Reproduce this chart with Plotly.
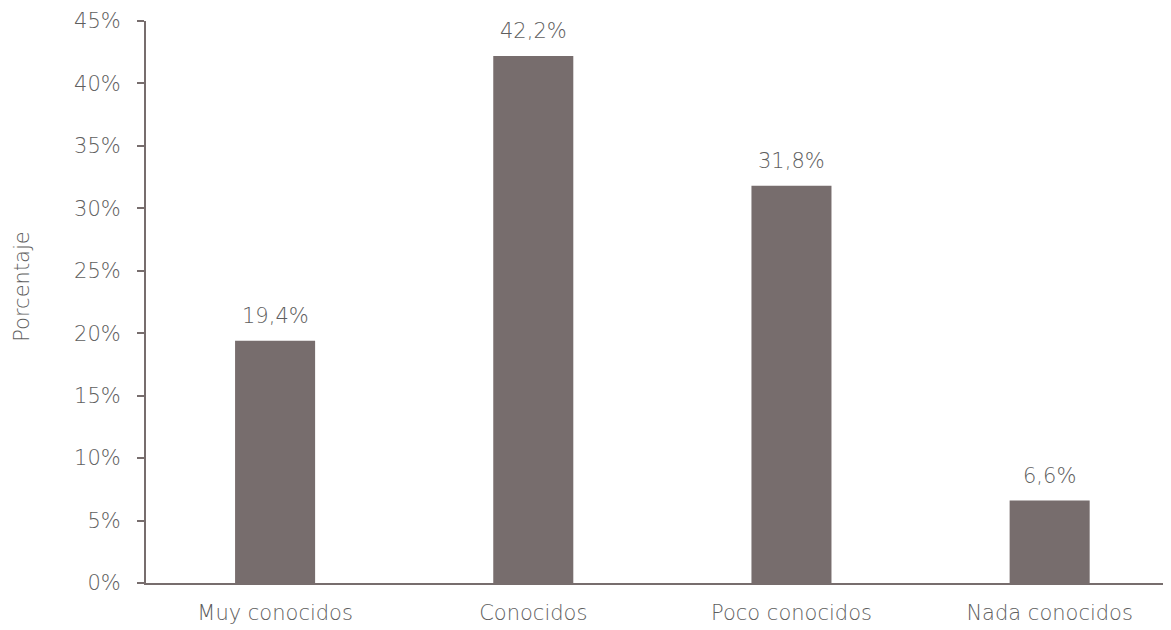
import plotly.graph_objects as go

categories = ["Muy conocidos", "Conocidos", "Poco conocidos", "Nada conocidos"]
values = [19.4, 42.2, 31.8, 6.6]
tick_vals = [0, 5, 10, 15, 20, 25, 30, 35, 40, 45]
tick_text = [f"{v}%" for v in tick_vals]
value_labels = [f"{v:.1f}".replace(".", ",") + "%" for v in values]
y_title = "Porcentaje"

bar_color = "#776d6d"
text_color = "#5e5e5e"
font_family = "'DejaVu Sans', 'Open Sans', sans-serif"
fsize = 21
fweight = 200


def mkfont():
    return dict(size=fsize, color=text_color, family=font_family, weight=fweight)


fig = go.Figure(
    go.Bar(
        x=categories,
        y=values,
        marker=dict(color=bar_color, line=dict(width=0)),
        width=0.31,
        cliponaxis=False,
        hoverinfo="skip",
    )
)

for c, v, t in zip(categories, values, value_labels):
    fig.add_annotation(
        x=c, y=v, text=t, showarrow=False, yanchor="bottom", yshift=11,
        font=mkfont(),
    )

# y-axis title as a rotated annotation so its position matches the reference
fig.add_annotation(
    xref="paper", yref="paper", x=0, y=0.527, xanchor="center", yanchor="middle",
    xshift=-124, text=y_title, textangle=-90, showarrow=False, font=mkfont(),
)

# page body has an 8px default margin; compensate so the plot sits where it should
fig.update_layout(
    width=1163,
    height=622,
    margin=dict(l=138, r=0, t=13, b=47),
    paper_bgcolor="white",
    plot_bgcolor="white",
    showlegend=False,
    font=mkfont(),
    xaxis=dict(
        range=[-0.5, 3.47],
        showgrid=False,
        showline=True,
        linecolor=bar_color,
        linewidth=2,
        ticks="",
        ticklabelstandoff=10,
        tickfont=mkfont(),
        zeroline=False,
    ),
    yaxis=dict(
        range=[0, 45],
        tickvals=tick_vals,
        ticktext=tick_text,
        showgrid=False,
        showline=True,
        linecolor=bar_color,
        linewidth=2,
        ticks="outside",
        ticklen=7,
        tickwidth=2,
        tickcolor=bar_color,
        ticklabelstandoff=12,
        ticklabeloverflow="allow",
        tickfont=mkfont(),
        zeroline=False,
    ),
)

fig.write_html("out.html")
